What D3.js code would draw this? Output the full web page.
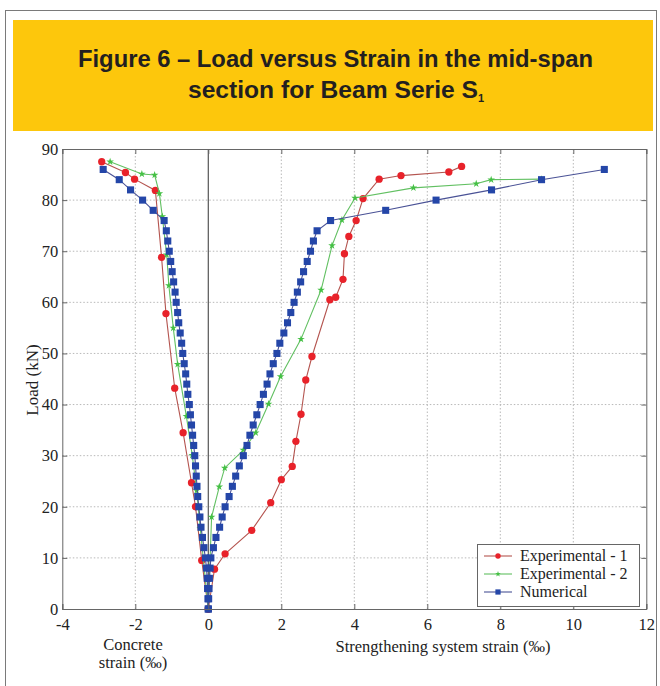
<!DOCTYPE html>
<html>
<head>
<meta charset="utf-8">
<script src="https://cdn.jsdelivr.net/npm/d3@7"></script>
<style>
  body { margin: 0; background: #fff; }
  svg { display: block; }
  .serif text, text.serif { font-family: "Liberation Serif", "Times New Roman", "DejaVu Serif", serif; }
</style>
</head>
<body>
<div id="chart"></div>
<script>
// x ticks / y ticks
const xTicks = [-4, -2, 0, 2, 4, 6, 8, 10, 12];
const yTicks = [0, 10, 20, 30, 40, 50, 60, 70, 80, 90];

// Experimental - 1 (red)
const exp1ConcLoad = [0, 9.5, 20.0, 24.7, 34.5, 43.2, 57.8, 68.8, 81.9, 84.1, 85.4, 87.5];
const exp1ConcStrain = [0, -0.18, -0.35, -0.46, -0.69, -0.92, -1.16, -1.28, -1.45, -2.02, -2.27, -2.92];
const exp1StrLoad = [0, 7.8, 10.8, 15.4, 20.8, 25.3, 27.9, 32.8, 38.1, 44.8, 49.4, 60.5, 61.0, 64.5, 69.5, 72.9, 76.0, 80.3, 84.1, 84.8, 85.5, 86.6];
const exp1StrStrain = [0, 0.17, 0.46, 1.19, 1.71, 2.00, 2.30, 2.40, 2.54, 2.67, 2.84, 3.33, 3.49, 3.69, 3.73, 3.85, 4.05, 4.24, 4.68, 5.28, 6.59, 6.94];

// Experimental - 2 (green)
const exp2ConcLoad = [0, 15.8, 23.2, 30.1, 37.7, 47.9, 55.0, 63.3, 69.3, 76.8, 81.3, 84.9, 85.1, 87.5];
const exp2ConcStrain = [0, -0.22, -0.32, -0.44, -0.60, -0.84, -0.96, -1.08, -1.14, -1.26, -1.34, -1.47, -1.82, -2.69];
const exp2StrLoad = [0, 18.0, 23.9, 27.6, 31.1, 34.5, 40.1, 45.5, 52.8, 62.4, 71.1, 76.1, 80.4, 82.4, 83.2, 84.0, 84.1];
const exp2StrStrain = [0, 0.09, 0.30, 0.45, 0.96, 1.30, 1.65, 1.98, 2.54, 3.09, 3.39, 3.66, 4.02, 5.62, 7.34, 7.75, 9.13];

// Numerical (blue)
const numLoad = [0, 2, 4, 6, 8, 10, 12, 14, 16, 18, 20, 22, 24, 26, 28, 30, 32, 34, 36, 38, 40, 42,
  44, 46, 48, 50, 52, 54, 56, 58, 60, 62, 64, 66, 68, 70, 72, 74, 76, 78, 80, 82, 84, 86];
const numConcStrain = [0, -0.01, -0.02, -0.03, -0.05, -0.08, -0.12, -0.16, -0.20, -0.23, -0.26, -0.29,
  -0.31, -0.33, -0.35, -0.37, -0.40, -0.43, -0.46, -0.49, -0.52, -0.56, -0.59, -0.62, -0.66, -0.70,
  -0.73, -0.77, -0.81, -0.84, -0.88, -0.91, -0.95, -0.99, -1.03, -1.07, -1.11, -1.15, -1.21, -1.51,
  -1.80, -2.13, -2.44, -2.88];
const numStrStrain = [0, 0.01, 0.02, 0.03, 0.05, 0.07, 0.14, 0.21, 0.31, 0.38, 0.46, 0.57, 0.66, 0.75,
  0.85, 0.96, 1.06, 1.14, 1.23, 1.33, 1.42, 1.51, 1.61, 1.69, 1.78, 1.88, 1.96, 2.07, 2.17, 2.26, 2.35,
  2.44, 2.53, 2.61, 2.71, 2.80, 2.88, 2.98, 3.35, 4.86, 6.24, 7.76, 9.13, 10.85];

const W = 660, H = 686;
const margin = {left: 62.3, right: 660 - 646.3, top: 149, bottom: 686 - 609};

const zip = (xs, ys) => xs.map((x, i) => ({x: x, y: ys[i]}));

const series = [
  {name: "Experimental - 1", line: "#b4544f", fill: "#e8222a", shape: d3.symbolCircle, size: 42,
    parts: [zip(exp1ConcStrain, exp1ConcLoad), zip(exp1StrStrain, exp1StrLoad)]},
  {name: "Experimental - 2", line: "#62c062", fill: "#45c045", shape: d3.symbolStar, size: 18,
    parts: [zip(exp2ConcStrain, exp2ConcLoad), zip(exp2StrStrain, exp2StrLoad)]},
  {name: "Numerical", line: "#4a5296", fill: "#2446a8", shape: d3.symbolSquare, size: 50,
    parts: [zip(numConcStrain, numLoad), zip(numStrStrain, numLoad)]}
];

const svg = d3.select("#chart").append("svg")
  .attr("width", W).attr("height", H);

// frame + title box
svg.append("rect").attr("x", 5.5).attr("y", 10.5).attr("width", 651).attr("height", 700)
  .attr("fill", "none").attr("stroke", "#7a7a7a").attr("stroke-width", 1);
svg.append("rect").attr("x", 13).attr("y", 20).attr("width", 640).attr("height", 111)
  .attr("fill", "#fdc70c");

const title = svg.append("g")
  .style("font-family", "'Liberation Sans', Arial, sans-serif")
  .attr("font-weight", "bold").attr("fill", "#231f20")
  .attr("text-anchor", "middle");
title.append("text").attr("x", 335.5).attr("y", 67).attr("font-size", 24)
  .attr("textLength", 515).attr("lengthAdjust", "spacingAndGlyphs")
  .text("Figure 6 – Load versus Strain in the mid-span");
const t2 = title.append("text").attr("x", 336).attr("y", 98).attr("font-size", 24);
t2.append("tspan").attr("textLength", 290).attr("lengthAdjust", "spacingAndGlyphs")
  .text("section for Beam Serie S");
t2.append("tspan").attr("font-size", 11).attr("dy", 4).text("1");

const x = d3.scaleLinear().domain([-4, 12]).range([margin.left, W - margin.right]);
const y = d3.scaleLinear().domain([0, 90]).range([H - margin.bottom, margin.top]);

const plot = svg.append("g");

// grid
plot.append("g").selectAll("line").data(xTicks.filter(d => d > -4 && d < 12 && d !== 0)).join("line")
  .attr("x1", d => x(d)).attr("x2", d => x(d)).attr("y1", y(0)).attr("y2", y(90))
  .attr("stroke", "#b8b8b8").attr("stroke-dasharray", "1.5,2");
plot.append("g").selectAll("line").data(yTicks.filter(d => d > 0 && d < 90)).join("line")
  .attr("x1", x(-4)).attr("x2", x(12)).attr("y1", d => y(d)).attr("y2", d => y(d))
  .attr("stroke", "#b8b8b8").attr("stroke-dasharray", "1.5,2");

// zero line
plot.append("line").attr("x1", x(0)).attr("x2", x(0)).attr("y1", y(0)).attr("y2", y(90))
  .attr("stroke", "#555").attr("stroke-width", 1.2);

// axes (MATLAB-like box with inward ticks)
const xAxis = d3.axisBottom(x).tickValues(xTicks).tickSize(-5).tickPadding(9).tickFormat(d3.format("d"));
const yAxis = d3.axisLeft(y).tickValues(yTicks).tickSize(-5).tickPadding(4);
const gx = svg.append("g").attr("class", "serif").attr("transform", `translate(0,${y(0)})`).call(xAxis);
const gy = svg.append("g").attr("class", "serif").attr("transform", `translate(${x(-4)},0)`).call(yAxis);
svg.append("g").attr("transform", `translate(0,${y(90)})`)
  .call(d3.axisTop(x).tickValues(xTicks).tickSize(-5).tickFormat(""));
svg.append("g").attr("transform", `translate(${x(12)},0)`)
  .call(d3.axisRight(y).tickValues(yTicks).tickSize(-5).tickFormat(""));
svg.selectAll(".domain").attr("stroke", "#666");
svg.selectAll(".tick line").attr("stroke", "#666");
[gx, gy].forEach(g => g.selectAll("text").attr("font-size", 16.5).attr("fill", "#222"));
gx.selectAll("text").text(d => d < 0 ? "-" + Math.abs(d) : d);

// axis titles
const lab = svg.append("g").attr("class", "serif").attr("font-size", 16.5)
  .attr("fill", "#222").attr("text-anchor", "middle");
lab.append("text").attr("x", 133).attr("y", 650).text("Concrete");
lab.append("text").attr("x", 133).attr("y", 668).text("strain (‰)");
lab.append("text").attr("x", 443).attr("y", 652).text("Strengthening system strain (‰)");
lab.append("text").attr("transform", "translate(38,380) rotate(-90)").attr("font-size", 17).text("Load (kN)");

// series
const line = d3.line().x(d => x(d.x)).y(d => y(d.y));

series.forEach(s => {
  const g = plot.append("g");
  s.parts.forEach(pts => {
    g.append("path").datum(pts).attr("d", line)
      .attr("fill", "none").attr("stroke", s.line).attr("stroke-width", 1.1);
    g.append("g").selectAll("path").data(pts).join("path")
      .attr("transform", d => `translate(${x(d.x)},${y(d.y)})`)
      .attr("d", d3.symbol(s.shape, s.size)())
      .attr("fill", s.fill);
  });
});

// legend
const lg = svg.append("g").attr("class", "serif").attr("font-size", 16).attr("fill", "#222");
lg.append("rect").attr("x", 477.5).attr("y", 544.5).attr("width", 162).attr("height", 62)
  .attr("fill", "#fff").attr("stroke", "#666");
series.forEach((s, i) => {
  const ly = 556 + i * 18;
  lg.append("line").attr("x1", 484).attr("x2", 512).attr("y1", ly).attr("y2", ly)
    .attr("stroke", s.line).attr("stroke-width", 1.1);
  lg.append("path").attr("transform", `translate(498,${ly})`)
    .attr("d", d3.symbol(s.shape, s.size * 0.55)())
    .attr("fill", s.fill);
  lg.append("text").attr("x", 520).attr("y", ly + 5).text(s.name);
});
</script>
</body>
</html>
